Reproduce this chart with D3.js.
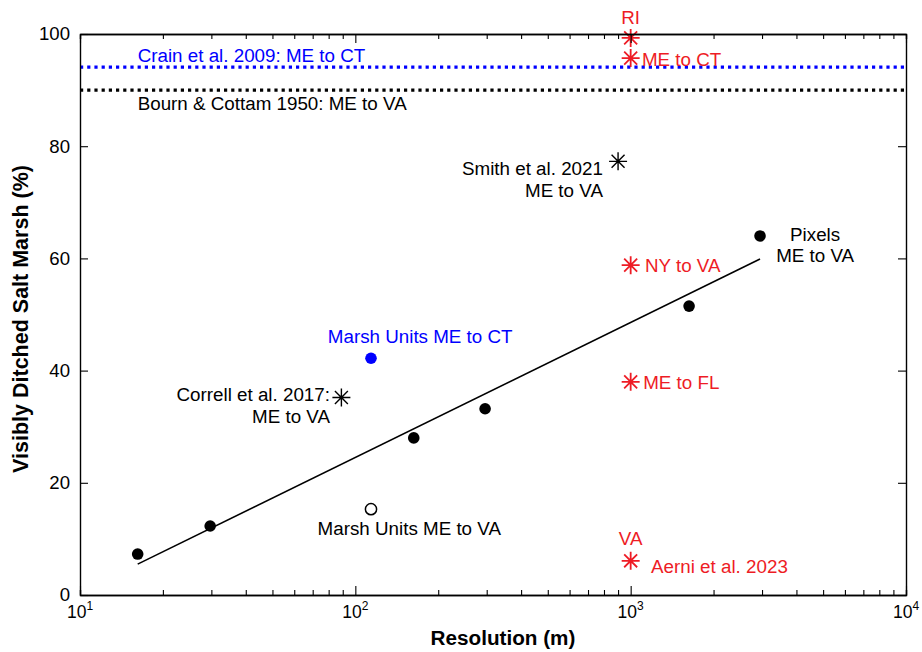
<!DOCTYPE html>
<html><head><meta charset="utf-8">
<script src="https://cdn.jsdelivr.net/npm/d3@7"></script>
<style>body{margin:0;background:#fff}svg{display:block;font-family:"Liberation Sans",Arial,sans-serif}</style>
</head><body><div id="chart"></div>
<script>
// ---- data ----
const pixelRes = [16.2, 29.7, 163, 296, 1630, 2950];
const pixelPct = [7.3, 12.3, 28.0, 33.2, 51.5, 64.0];
const fitX = [16.2, 2950];
const fitY = [5.5, 59.9];
const unitsCTRes = [114], unitsCTPct = [42.2];
const unitsVARes = [114], unitsVAPct = [15.3];
const litBlackRes = [89, 900], litBlackPct = [35.2, 77.3];
const litRedRes = [1000, 1000, 1000, 1000, 1000];
const litRedPct = [99.3, 95.7, 58.8, 38.0, 6.1];
const refLineNames = ["Crain et al. 2009: ME to CT", "Bourn & Cottam 1950: ME to VA"];
const refLineVals = [94.1, 90.0];
const yTicks = [0, 20, 40, 60, 80, 100];
const xMajor = [10, 100, 1000, 10000];
const xMajorExp = ["1", "2", "3", "4"];
// annotation texts with data-coordinate anchors
const labelText = ["Crain et al. 2009: ME to CT", "Bourn & Cottam 1950: ME to VA", "RI", "ME to CT",
  "Smith et al. 2021", "ME to VA", "Pixels", "ME to VA", "NY to VA", "ME to FL",
  "Marsh Units ME to CT", "Correll et al. 2017:", "ME to VA", "Marsh Units ME to VA", "VA", "Aerni et al. 2023"];
const labelX = [16.2, 16.2, 1000, 1099, 793, 793, 4677, 4677, 1127, 1110, 172, 80.9, 80.9, 157, 1000, 1186];
const labelY = [95.0, 86.5, 101.8, 94.3, 74.9, 70.9, 63.1, 59.4, 57.6, 36.7, 44.9, 34.6, 30.7, 10.7, 8.9, 3.9];
const labelAnchor = ["start","start","middle","start","end","end","middle","middle","start","start","middle","end","end","middle","middle","start"];
const labelColor = ["blue","black","red","red","black","black","black","black","red","red","blue","black","black","black","red","red"];

const W = 922, H = 652;
const RED = "#ee1c25", BLUE = "#0000ff";
const FONT = '"Liberation Sans",Arial,sans-serif';
const colorMap = {red: RED, blue: BLUE, black: "#000"};
const svg = d3.select("#chart").append("svg").attr("width", W).attr("height", H);
const x = d3.scaleLog().domain([10, 10000]).range([80, 906]);
const y = d3.scaleLinear().domain([0, 100]).range([595, 34]);

// reference lines
svg.selectAll(".ref").data(refLineVals).join("line")
  .attr("x1", x(10)).attr("x2", x(10000)).attr("y1", d => y(d)).attr("y2", d => y(d))
  .attr("stroke", (d, i) => i === 0 ? BLUE : "#000").attr("stroke-width", 3.2)
  .attr("stroke-dasharray", "3.2,4");

// fit line
svg.append("path").datum(fitX.map((d, i) => [d, fitY[i]]))
  .attr("d", d3.line().x(d => x(d[0])).y(d => y(d[1])))
  .attr("fill", "none").attr("stroke", "#000").attr("stroke-width", 1.6);

// points
svg.selectAll(".px").data(pixelRes).join("circle")
  .attr("cx", d => x(d)).attr("cy", (d, i) => y(pixelPct[i])).attr("r", 5.8).attr("fill", "#000");
svg.selectAll(".uct").data(unitsCTRes).join("circle")
  .attr("cx", d => x(d)).attr("cy", (d, i) => y(unitsCTPct[i])).attr("r", 5.8).attr("fill", BLUE);
svg.selectAll(".uva").data(unitsVARes).join("circle")
  .attr("cx", d => x(d)).attr("cy", (d, i) => y(unitsVAPct[i])).attr("r", 5.6)
  .attr("fill", "#fff").attr("stroke", "#000").attr("stroke-width", 1.5);

function star(r) {
  const a = r * 0.72;
  return `M0,${-r}V${r}M${-r},0H${r}M${-a},${-a}L${a},${a}M${-a},${a}L${a},${-a}`;
}
svg.selectAll(".sb").data(litBlackRes).join("path")
  .attr("transform", (d, i) => `translate(${x(d)},${y(litBlackPct[i])})`)
  .attr("d", star(9)).attr("stroke", "#000").attr("stroke-width", 1.4).attr("fill", "none");
svg.selectAll(".sr").data(litRedRes).join("path")
  .attr("transform", (d, i) => `translate(${x(d)},${y(litRedPct[i])})`)
  .attr("d", star(9)).attr("stroke", RED).attr("stroke-width", 1.8).attr("fill", "none");

// labels
svg.selectAll(".lab").data(labelText).join("text")
  .attr("x", (d, i) => x(labelX[i])).attr("y", (d, i) => y(labelY[i]))
  .attr("text-anchor", (d, i) => labelAnchor[i])
  .attr("fill", (d, i) => colorMap[labelColor[i]])
  .attr("font-size", 18.8).text(d => d);

// axes
const minor = [];
for (let dec = 10; dec < 10000; dec *= 10) for (let k = 2; k <= 9; k++) minor.push(dec * k);
const g = svg.append("g");
function styleAxis(sel) {
  sel.select(".domain").attr("stroke", "#000").attr("stroke-width", 1.4);
  sel.selectAll(".tick line").attr("stroke", "#000").attr("stroke-width", 1.1);
  sel.selectAll("text").attr("font-size", 18.6).attr("fill", "#000").attr("font-family", FONT);
}
g.append("g").attr("transform", "translate(0,595)")
  .call(d3.axisBottom(x).tickValues(minor).tickSize(-5).tickFormat("")).call(styleAxis);
g.append("g").attr("transform", "translate(0,595)")
  .call(d3.axisBottom(x).tickValues(xMajor).tickSize(-9).tickFormat("").tickSizeOuter(0)).call(styleAxis);
g.append("g").attr("transform", "translate(0,34)")
  .call(d3.axisTop(x).tickValues(minor).tickSize(-5).tickFormat("")).call(styleAxis);
g.append("g").attr("transform", "translate(0,34)")
  .call(d3.axisTop(x).tickValues(xMajor).tickSize(-9).tickFormat("").tickSizeOuter(0)).call(styleAxis);
g.append("g").attr("transform", "translate(80,0)")
  .call(d3.axisLeft(y).tickValues(yTicks).tickSize(-8).tickSizeOuter(0).tickPadding(10)).call(styleAxis);
g.append("g").attr("transform", "translate(906,0)")
  .call(d3.axisRight(y).tickValues(yTicks).tickSize(-8).tickSizeOuter(0).tickFormat("")).call(styleAxis);

// x major labels with superscripts
const xl = svg.selectAll(".xl").data(xMajor).join("text")
  .attr("x", d => x(d)).attr("y", 618).attr("text-anchor", "middle")
  .attr("font-size", 17.5).attr("fill", "#000");
xl.append("tspan").text("10");
xl.append("tspan").attr("font-size", 12).attr("dy", -8).text((d, i) => xMajorExp[i]);

svg.append("text").attr("x", 503).attr("y", 645).attr("text-anchor", "middle")
  .attr("font-size", 20.7).attr("font-weight", "bold").text("Resolution (m)");
svg.append("text").attr("transform", `translate(28,319) rotate(-90)`)
  .attr("text-anchor", "middle").attr("font-size", 21.5).attr("font-weight", "bold")
  .text("Visibly Ditched Salt Marsh (%)");
</script></body></html>
